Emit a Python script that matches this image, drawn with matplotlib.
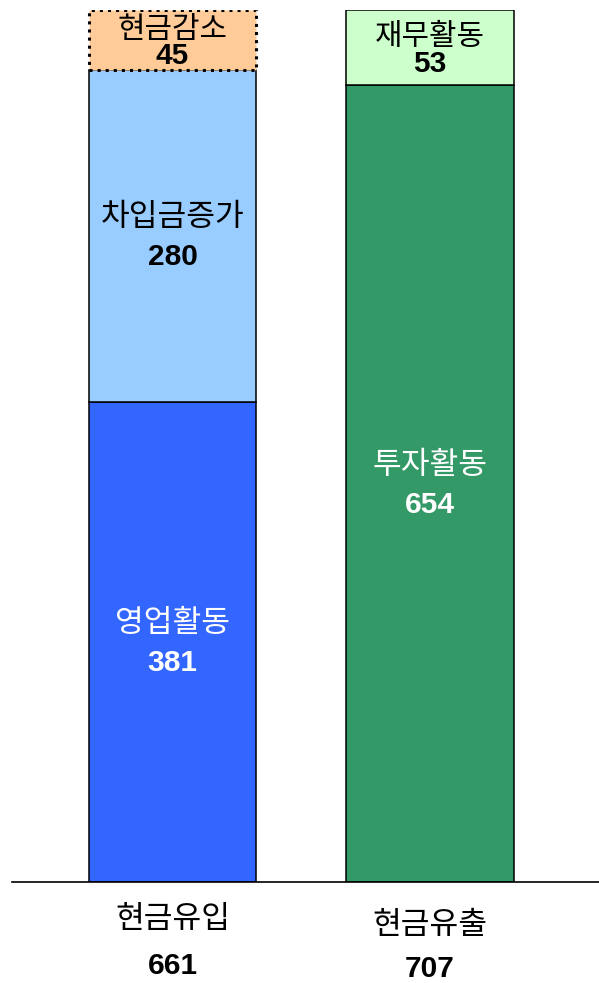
import matplotlib
matplotlib.use('Agg')
import matplotlib.pyplot as plt

plt.rcParams['font.family'] = ['Noto Sans CJK KR', 'DejaVu Sans']

# bars
groups = ['현금유입', '현금유출']
group_totals = [661, 707]

# stacked segments, bottom to top (heights as drawn in the picture)
left_names = ['영업활동', '차입금증가', '현금감소']
left_values = [381, 280, 45]
left_heights = [389, 269, 49]
left_colors = ['#3366FF', '#99CCFF', '#FFCC99']
left_text = ['white', 'black', 'black']

right_names = ['투자활동', '재무활동']
right_values = [654, 53]
right_heights = [646, 61]
right_colors = ['#339966', '#CCFFCC']
right_text = ['white', 'black']

W, H = 599, 983
fig = plt.figure(figsize=(W / 100, H / 100), dpi=100)
ax = fig.add_axes([12 / W, 1 - 882 / H, 1 - 12 / W, 872 / H])

PX = 0.72  # points per pixel
bar_w = 0.65
KO_SIZE = 22.5
NUM_SIZE = 21.5


def draw_stack(x, names, values, heights, colors, tcolors):
    bottom = 0
    for n, v, h, c, tc in zip(names, values, heights, colors, tcolors):
        dotted = (c == '#FFCC99')
        ax.bar(x, h, bottom=bottom, width=bar_w, color=c,
               edgecolor='black', linewidth=2.2 if dotted else 1.1,
               linestyle=':' if dotted else '-', zorder=2)
        mid = bottom + h / 2
        up, down = (11, 16) if h < 100 else (19, 21)
        ax.annotate(n, (x, mid), xytext=(0, up * PX), textcoords='offset points',
                    ha='center', va='center', fontsize=KO_SIZE - (1 if h < 100 else 0),
                    color=tc)
        ax.annotate(str(v), (x, mid), xytext=(0, -down * PX), textcoords='offset points',
                    ha='center', va='center', fontsize=NUM_SIZE, fontweight='bold',
                    family='Liberation Sans', color=tc)
        bottom += h


draw_stack(0, left_names, left_values, left_heights, left_colors, left_text)
draw_stack(1, right_names, right_values, right_heights, right_colors, right_text)

# group labels under the axis
for x, g, t, dy in zip([0, 1], groups, group_totals, [0, 6]):
    ax.annotate(g, (x, 0), xytext=(0, -(37 + dy) * PX), textcoords='offset points',
                ha='center', va='center', fontsize=KO_SIZE, color='black')
    ax.annotate(str(t), (x, 0), xytext=(0, -(84 + dy * 0.5) * PX), textcoords='offset points',
                ha='center', va='center', fontsize=NUM_SIZE, fontweight='bold',
                family='Liberation Sans', color='black')

ax.set_xlim(-0.623, 1.656)
ax.set_ylim(0, 707)
for s in ['top', 'left', 'right']:
    ax.spines[s].set_visible(False)
ax.spines['bottom'].set_linewidth(1.2)
ax.set_xticks([])
ax.set_yticks([])
ax.patch.set_alpha(0)

fig.savefig('out.png', dpi=100)
